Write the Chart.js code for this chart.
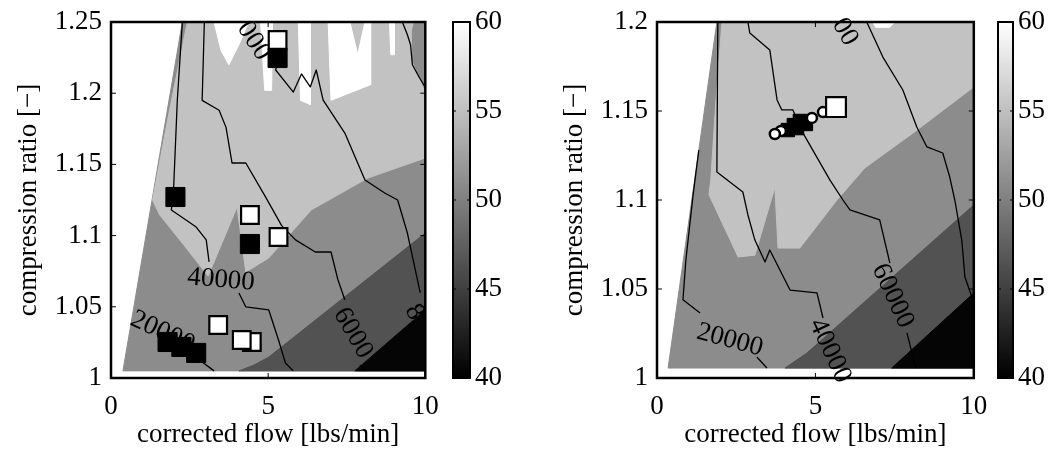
<!DOCTYPE html>
<html>
<head>
<meta charset="utf-8">
<script src="https://cdn.jsdelivr.net/npm/chart.js@4.4.0/dist/chart.umd.min.js"></script>
<style>
  html, body { margin: 0; padding: 0; background: #fff; }
  #wrap { position: relative; width: 1061px; height: 455px; overflow: hidden; }
  #wrap canvas { position: absolute; top: 0; }
</style>
</head>
<body>
<div id="wrap">
  <canvas id="leftMap" width="440" height="455" style="left:0px"></canvas>
  <canvas id="leftBar" width="90" height="455" style="left:440px"></canvas>
  <canvas id="rightMap" width="444" height="455" style="left:546px"></canvas>
  <canvas id="rightBar" width="71" height="455" style="left:990px"></canvas>
</div>
<script>
const FONT = '"Liberation Serif", "Times New Roman", serif';
Chart.defaults.font.family = FONT;
Chart.defaults.font.size = 27;
Chart.defaults.color = '#000';

// ticks
const xTicks = [0, 5, 10];
const leftYTicks = [1, 1.05, 1.1, 1.15, 1.2, 1.25];
const rightYTicks = [1, 1.05, 1.1, 1.15, 1.2];
const barTicks = [40, 45, 50, 55, 60];

// gray levels of the filled contours
const gWhite = '#ffffff', gLight = '#c2c2c2', gMid = '#8c8c8c', gDark = '#525252', gBlack = '#050505';

// ---- left map: filled regions [flow, ratio]
const leftDomain = [[0.38,1.005],[10,1.005],[10,1.25],[2.27,1.25]];
const leftLight = [[2.43,1.25],[1.86,1.188],[1.32,1.125],[1.55,1.1145],[2.33,1.093],[3.09,1.0716],[4.01,1.12],[4.29,1.0744],[5.02,1.0843],[6.37,1.118],[8.17,1.1404],[10,1.1545],[10,1.25]];
const leftStrip = [[9.65,1.25],[10,1.25],[10,1.202],[9.75,1.215],[9.59,1.223],[9.59,1.244]];
const leftWhite1 = [[3.28,1.25],[4.38,1.25],[4.07,1.234],[3.75,1.22],[3.5,1.23]];
const leftWhite2 = [[4.76,1.25],[5.14,1.25],[5.11,1.202],[4.89,1.202]];
const leftWhite3 = [[5.96,1.25],[6.34,1.25],[6.34,1.192],[6.03,1.195]];
const leftWhite4 = [[6.91,1.25],[7.6,1.25],[7.85,1.227],[8.08,1.25],[8.26,1.25],[8.26,1.206],[7.0,1.195]];
const leftWhite5 = [[8.86,1.25],[9.02,1.25],[9.02,1.227],[8.9,1.227]];
const leftDark = [[4.07,1.005],[4.54,1.009],[5.02,1.0147],[10,1.1018],[10,1.005]];
const leftBlack = [[7.76,1.005],[10,1.0478],[10,1.005]];

// left map: contour lines
const left20 = [[2.9,1.0112],[3.28,1.005]];
const left40a = [[2.27,1.25],[2.11,1.195],[1.99,1.132],[1.92,1.118],[2.71,1.106],[3.03,1.097],[3.12,1.0815]];
const left40b = [[4.07,1.0597],[4.29,1.0499],[5.02,1.0478],[5.33,1.0267],[5.55,1.0105],[5.8,1.005]];
const left60a = [[2.97,1.25],[2.9,1.195],[3.44,1.188],[3.66,1.176],[3.85,1.151],[4.29,1.151],[4.92,1.127],[5.43,1.107],[5.87,1.097],[6.5,1.0885],[7.0,1.0885],[7.22,1.069],[7.44,1.055]];
const left60b = [[7.92,1.009],[8.08,1.005]];
const left80 = [[5.3,1.222],[5.24,1.2163],[5.8,1.2008],[6.06,1.2135],[6.34,1.2044],[6.53,1.2163],[6.75,1.1952],[7.44,1.172],[8.08,1.139],[8.71,1.1299],[9.12,1.125],[9.43,1.1018],[9.84,1.0597]];
const leftTop = [[9.27,1.25],[9.43,1.241],[9.53,1.234],[9.59,1.22],[9.81,1.211],[10,1.204]];
const leftLabels = [['40000',3.5,1.0688,5],['20000',1.64,1.0323,25],['6000',7.7,1.0316,60],['000',4.54,1.2367,57],['8',9.65,1.0463,60]];

// left map: measured points
const leftBlackSq = [[5.3,1.2247],[2.05,1.1271],[4.42,1.0941],[1.8,1.0253],[2.24,1.0218],[2.71,1.0176]];
const leftWhiteSq = [[5.3,1.2374],[5.33,1.099],[4.42,1.1145],[3.41,1.0372],[4.48,1.0253],[4.16,1.0267]];

// ---- right map: filled regions
const rightDomain = [[0.35,1.0056],[10,1.0056],[10,1.2],[1.89,1.2]];
const rightLight = [[2.05,1.2],[1.86,1.156],[1.7,1.112],[1.64,1.103],[2.56,1.068],[3.09,1.069],[3.72,1.107],[3.82,1.073],[4.51,1.073],[5.68,1.1],[6.56,1.118],[8.08,1.1376],[10,1.1635],[10,1.2]];
const rightWhite = [[6.81,1.2],[7.5,1.2],[7.35,1.197],[6.9,1.197]];
const rightDark = [[4.04,1.0056],[4.73,1.014],[10,1.0972],[10,1.0056]];
const rightBlack = [[7.41,1.0056],[10,1.0478],[10,1.0056]];

// right map: contour lines
const right20a = [[1.32,1.128],[1.14,1.103],[0.91,1.066],[0.82,1.044],[1.36,1.0365]];
const right20b = [[3.15,1.0118],[3.47,1.0056]];
const right40 = [[1.92,1.2],[1.89,1.1157],[2.71,1.1045],[2.87,1.0916],[3.09,1.0775],[3.41,1.0652],[3.56,1.0719],[4.2,1.0494],[5.05,1.0478],[5.24,1.0337]];
const right60a = [[2.87,1.2],[2.93,1.1938],[3.56,1.1843],[3.79,1.1562],[3.94,1.1506],[4.29,1.1506],[4.61,1.1376],[5.46,1.1112],[5.87,1.1],[6.09,1.0944],[7.03,1.0888],[7.35,1.0646]];
const right60b = [[7.89,1.0253],[8.08,1.0118],[8.17,1.0056]];
const right80 = [[6.62,1.2],[7.13,1.1803],[7.76,1.1618],[8.2,1.141],[8.52,1.1298],[9.02,1.1264],[9.24,1.1129],[9.4,1.1],[9.62,1.0775],[9.72,1.0567],[9.94,1.0455]];
const rightLabels = [['20000',2.3,1.0213,15],['40000',5.46,1.0152,65],['60000',7.44,1.0461,65],['00',5.93,1.1944,60]];

// right map: measured points
const rightBlackSq = [[4.13,1.1393],[4.32,1.1421],[4.51,1.1444],[4.7,1.1427],[4.42,1.1404]];
const rightCircles = [[5.24,1.1494],[4.89,1.1461],[3.91,1.1388],[3.72,1.1371]];
const rightWhiteSq = [[5.65,1.1522]];

function pts(arr) { return arr.map(p => ({x: p[0], y: p[1]})); }

function area(poly, color, order) {
  return { data: pts(poly.concat([poly[0]])), showLine: true, fill: 'shape', backgroundColor: color,
           borderColor: color, borderWidth: 1, pointRadius: 0, tension: 0, order: order };
}
function contour(line, order, last) {
  return { data: pts(line), showLine: true, fill: false, borderColor: '#000', borderWidth: 1.3,
           borderJoinStyle: 'round', pointRadius: 0, tension: 0, order: order, textAfter: !!last };
}
function marks(list, style, radius, bg, border, order) {
  return { data: pts(list), showLine: false, pointStyle: style, pointRadius: radius,
           pointBackgroundColor: bg, pointBorderColor: '#000', pointBorderWidth: border, order: order };
}

// box round the plot area with inward ticks
const frameTicks = {
  id: 'frameTicks',
  afterDraw(chart, args, opts) {
    const {ctx, chartArea: a, scales} = chart;
    ctx.save();
    ctx.strokeStyle = '#000';
    ctx.lineWidth = 1;
    const len = opts.len || 5;
    ctx.beginPath();
    if (opts.xTicks) {
      scales.x.ticks.forEach(t => {
        const px = scales.x.getPixelForValue(t.value);
        ctx.moveTo(px, a.bottom); ctx.lineTo(px, a.bottom - len);
        ctx.moveTo(px, a.top); ctx.lineTo(px, a.top + len);
      });
    }
    scales.y.ticks.forEach(t => {
      const py = scales.y.getPixelForValue(t.value);
      ctx.moveTo(a.left, py); ctx.lineTo(a.left + len, py);
      ctx.moveTo(a.right, py); ctx.lineTo(a.right - len, py);
    });
    ctx.stroke();
    ctx.lineWidth = opts.width || 2.5;
    ctx.strokeRect(a.left, a.top, a.right - a.left, a.bottom - a.top);
    ctx.restore();
  }
};

// contour labels, drawn just after the last contour line (below the markers)
const contourText = {
  id: 'contourText',
  afterDatasetDraw(chart, args, opts) {
    if (!chart.data.datasets[args.index].textAfter) return;
    const {ctx, scales: {x, y}} = chart;
    ctx.save();
    ctx.font = '27px ' + FONT;
    ctx.fillStyle = '#000';
    ctx.textAlign = 'center';
    ctx.textBaseline = 'middle';
    opts.items.forEach(([txt, vx, vy, rot]) => {
      ctx.save();
      ctx.translate(x.getPixelForValue(vx), y.getPixelForValue(vy));
      ctx.rotate(rot * Math.PI / 180);
      ctx.fillText(txt, 0, 0);
      ctx.restore();
    });
    ctx.restore();
  }
};

function fmt(v) { return String(Math.round(v * 100) / 100); }

// keep the plot area where the reference has it, whatever the label overflow
function fixX(h) { return s => { s.height = h; s.paddingLeft = 0; s.paddingRight = 0; }; }
function fixY(w) { return s => { s.width = w; s.paddingTop = 0; s.paddingBottom = 0; }; }

function mapOptions(yMax, yTicks, labels, padRight) {
  return {
    responsive: false, animation: false, events: [], devicePixelRatio: 1,
    layout: { padding: { top: 22, right: padRight, bottom: 0, left: 0 } },
    plugins: { legend: { display: false }, tooltip: { enabled: false },
               frameTicks: { xTicks: true }, contourText: { items: labels } },
    scales: {
      x: { type: 'linear', min: 0, max: 10,
           afterBuildTicks: s => { s.ticks = xTicks.map(v => ({value: v})); },
           afterFit: fixX(77),
           grid: { display: false, drawTicks: false }, border: { display: false },
           ticks: { padding: 13, maxRotation: 0, autoSkip: false, callback: fmt },
           title: { display: true, text: 'corrected flow [lbs/min]', padding: { top: 0, bottom: 4 } } },
      y: { type: 'linear', min: 1, max: yMax,
           afterBuildTicks: s => { s.ticks = yTicks.map(v => ({value: v})); },
           afterFit: fixY(111),
           grid: { display: false, drawTicks: false }, border: { display: false },
           ticks: { padding: 9, autoSkip: false, callback: fmt },
           title: { display: true, text: 'compression ratio [\u2212]', padding: { top: 13, bottom: 0 } } }
    }
  };
}

new Chart(document.getElementById('leftMap'), {
  type: 'scatter',
  data: { datasets: [
    area(leftDomain, gMid, 20),
    area(leftLight, gLight, 19),
    area(leftStrip, gMid, 18),
    area(leftWhite1, gWhite, 17),
    area(leftWhite2, gWhite, 17),
    area(leftWhite3, gWhite, 17),
    area(leftWhite4, gWhite, 17),
    area(leftWhite5, gWhite, 17),
    area(leftDark, gDark, 16),
    area(leftBlack, gBlack, 15),
    contour(left40a, 9), contour(left40b, 9),
    contour(left60a, 9), contour(left60b, 9),
    contour(left80, 9), contour(leftTop, 9),
    contour(left20, 8, true),
    marks(leftBlackSq, 'rect', 13.5, '#000', 1, 2),
    marks(leftWhiteSq, 'rect', 12.5, '#fff', 2.2, 1)
  ]},
  options: mapOptions(1.25, leftYTicks, leftLabels, 12),
  plugins: [frameTicks, contourText]
});

new Chart(document.getElementById('rightMap'), {
  type: 'scatter',
  data: { datasets: [
    area(rightDomain, gMid, 20),
    area(rightLight, gLight, 19),
    area(rightWhite, gWhite, 18),
    area(rightDark, gDark, 16),
    area(rightBlack, gBlack, 15),
    contour(right20a, 9), contour(right40, 9),
    contour(right60a, 9), contour(right60b, 9),
    contour(right80, 9),
    contour(right20b, 8, true),
    marks(rightBlackSq, 'rect', 9.5, '#000', 1, 3),
    marks(rightCircles, 'circle', 5, '#fff', 2.5, 2),
    marks(rightWhiteSq, 'rect', 14, '#fff', 2.2, 1)
  ]},
  options: mapOptions(1.2, rightYTicks, rightLabels, 16),
  plugins: [frameTicks, contourText]
});

function colorbar(id, padLeft, axisWidth) {
  new Chart(document.getElementById(id), {
    type: 'bar',
    data: { labels: [''], datasets: [{
      data: [[barTicks[0], barTicks[barTicks.length - 1]]],
      barPercentage: 1, categoryPercentage: 1, borderWidth: 0,
      backgroundColor: ctx => {
        const a = ctx.chart.chartArea;
        if (!a) return '#888';
        const g = ctx.chart.ctx.createLinearGradient(0, a.bottom, 0, a.top);
        g.addColorStop(0, '#000');
        g.addColorStop(1, '#fff');
        return g;
      }
    }]},
    options: {
      responsive: false, animation: false, events: [], devicePixelRatio: 1,
      layout: { padding: { top: 22, right: 0, bottom: 77, left: padLeft } },
      plugins: { legend: { display: false }, tooltip: { enabled: false }, frameTicks: { xTicks: false, len: 3, width: 2 } },
      scales: {
        x: { display: false },
        y: { position: 'right', min: 40, max: 60,
             afterBuildTicks: s => { s.ticks = barTicks.map(v => ({value: v})); },
             afterFit: fixY(axisWidth),
             grid: { display: false, drawTicks: false }, border: { display: false },
             ticks: { padding: 5, autoSkip: false } }
      }
    },
    plugins: [frameTicks]
  });
}
colorbar('leftBar', 13, 60);
colorbar('rightBar', 8, 48);
</script>
</body>
</html>
